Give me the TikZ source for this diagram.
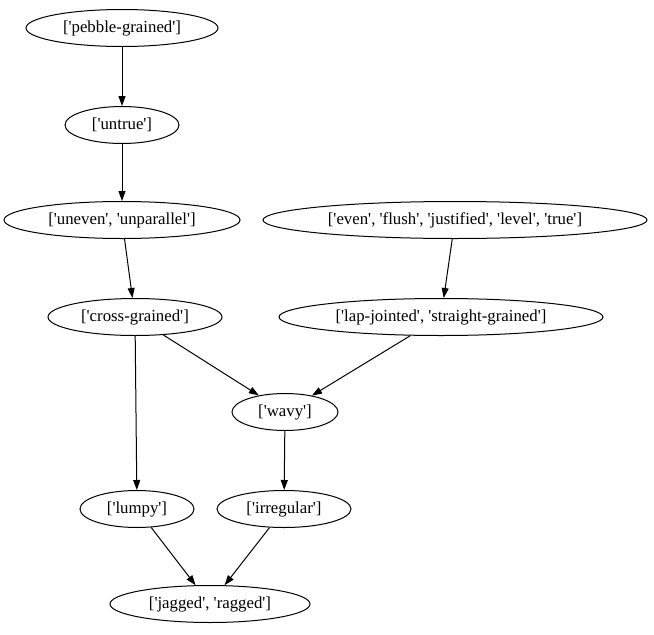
\documentclass[tikz,border=0pt]{standalone}
\usepackage{fontspec}
\setmainfont{Liberation Serif}[Ligatures=TeXOff]
\usetikzlibrary{shapes.geometric,arrows.meta}

\begin{document}
\begin{tikzpicture}[x=1pt, y=-1pt,
  word/.style={draw, ellipse, line width=1pt, inner sep=0pt, minimum height=37pt, font=\fontsize{16.8}{19}\selectfont},
  link/.style={-{Triangle[length=10pt,width=7pt]}, line width=1pt}]
\useasboundingbox (0,0) rectangle (654,635);
\node[word, minimum width=192pt] (pebble) at (122, 28) {['pebble-grained']};
\node[word, minimum width=114pt] (untrue) at (122, 125) {['untrue']};
\node[word, minimum width=236pt] (uneven) at (122, 220) {['uneven', 'unparallel']};
\node[word, minimum width=384pt] (even) at (455, 220) {['even', 'flush', 'justified', 'level', 'true']};
\node[word, minimum width=174pt] (cross) at (135, 317) {['cross-grained']};
\node[word, minimum width=324pt] (lap) at (441, 317) {['lap-jointed', 'straight-grained']};
\node[word, minimum width=106pt] (wavy) at (285, 412) {['wavy']};
\node[word, minimum width=114pt] (lumpy) at (137, 509) {['lumpy']};
\node[word, minimum width=134pt] (irregular) at (284, 509) {['irregular']};
\node[word, minimum width=200pt] (jagged) at (210, 604) {['jagged', 'ragged']};
\draw[link] (pebble) -- (untrue);
\draw[link] (untrue) -- (uneven);
\draw[link] (uneven) -- (cross);
\draw[link] (even) -- (lap);
\draw[link] (cross) -- (wavy);
\draw[link] (lap) -- (wavy);
\draw[link] (cross) -- (lumpy);
\draw[link] (wavy) -- (irregular);
\draw[link] (lumpy) -- (jagged);
\draw[link] (irregular) -- (jagged);
\end{tikzpicture}
\end{document}
